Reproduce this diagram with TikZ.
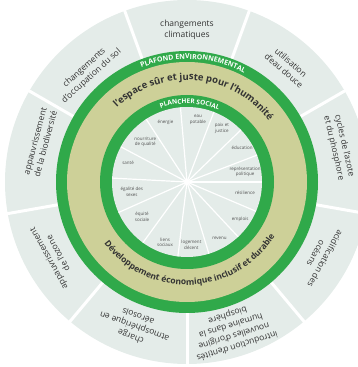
\documentclass[tikz,border=0pt]{standalone}
\usepackage{fontspec}
\setmainfont{Open Sans}
\usetikzlibrary{decorations.text}
\definecolor{DGreen}{HTML}{30A94A}
\definecolor{DKhaki}{HTML}{CDD098}
\definecolor{DGrey}{HTML}{E4ECE9}
\definecolor{DText}{HTML}{333333}

\begin{document}
\begin{tikzpicture}[
    x=1pt, y=1pt,
    boundary/.style={font=\fontsize{8.5}{10.8}\selectfont, text=DText, align=center},
    need/.style={font=\fontsize{4.5}{5.6}\selectfont, text=DText!85, align=center},
    gap/.style={white, line width=3pt},
    spoke/.style={white, line width=1.2pt},
    bandtext/.style={decorate, decoration={text along path, text align=center, text color=#1}}
]
\useasboundingbox (0,0) rectangle (358,367);
\begin{scope}[shift={(187,185)}]
\coordinate (c) at (0,0);

% Outer ring: planetary boundaries
\fill[DGrey] (c) circle[radius=182];
\foreach \a in {30,70,...,350}
    \draw[gap] (\a:131) -- (\a:186);

% Environmental ceiling, safe space, social foundation
\fill[DGreen] (c) circle[radius=131];
\fill[DKhaki] (c) circle[radius=120];
\fill[DGreen] (c) circle[radius=87];
\fill[DGrey] (c) circle[radius=75];

% Spokes of the inner disc
\foreach \a in {95,69,44,21,0,-23,-47,-73,-97,-126,-156,177,152,123}
    \draw[spoke] (c) -- (\a:75);
\fill[white] (c) circle[radius=3];

% Boundary labels
\foreach \a/\r/\t [count=\i] in {
    90/152/{changements\\climatiques},
    49/153/{utilisation\\d’eau douce},
    13/156/{cycles de l’azote\\et du phosphore},
    -29/153/{acidification des\\océans},
    -73/155/{introduction d’entités\\nouvelles d’origine\\humaine dans la\\biosphère},
    -110/154/{charge\\atmosphérique en\\aérosols},
    -151/153/{appauvrissement\\de l’ozone},
    165/152/{appauvrissement\\de la biodiversité},
    132/148/{changements\\d’occupation du sol}}
    \node[boundary, rotate=\a-90] (pb\i) at (\a:\r) {\t};

% Social foundation labels
\foreach \a/\r/\t [count=\i] in {
    110/63/{énergie},
    80/63/{eau\\potable},
    57/64/{paix et\\justice},
    32/65/{éducation},
    10/59/{représentation\\politique},
    -11/59/{résilience},
    -35/65/{emplois},
    -60/65/{revenu},
    -86/63/{logement\\décent},
    -110/64/{liens\\sociaux},
    -142/57/{équité\\sociale},
    -170/56/{égalité des\\sexes},
    162/62/{santé},
    136/58/{nourriture\\de qualité}}
    \node[need] (sf\i) at (\a:\r) {\t};

% Curved band titles
\path[bandtext=white, decoration={text={|\fontsize{7}{8}\bfseries|PLAFOND ENVIRONNEMENTAL}}]
    (115:123) arc[start angle=115, end angle=59, radius=123];
\path[bandtext=white, decoration={text={|\fontsize{6.5}{7}\bfseries|PLANCHER SOCIAL}}]
    (112:78.5) arc[start angle=112, end angle=64, radius=78.5];
\path[bandtext=DText, decoration={text={|\fontsize{9.5}{11}\bfseries|l’espace sûr et juste pour l’humanité}}]
    (145:102) arc[start angle=145, end angle=25, radius=102];
\path[bandtext=DText, decoration={text={|\fontsize{8.5}{10}\bfseries|Développement économique inclusif et durable}}]
    (200:103) arc[start angle=200, end angle=345, radius=103];
\end{scope}
\end{tikzpicture}
\end{document}
